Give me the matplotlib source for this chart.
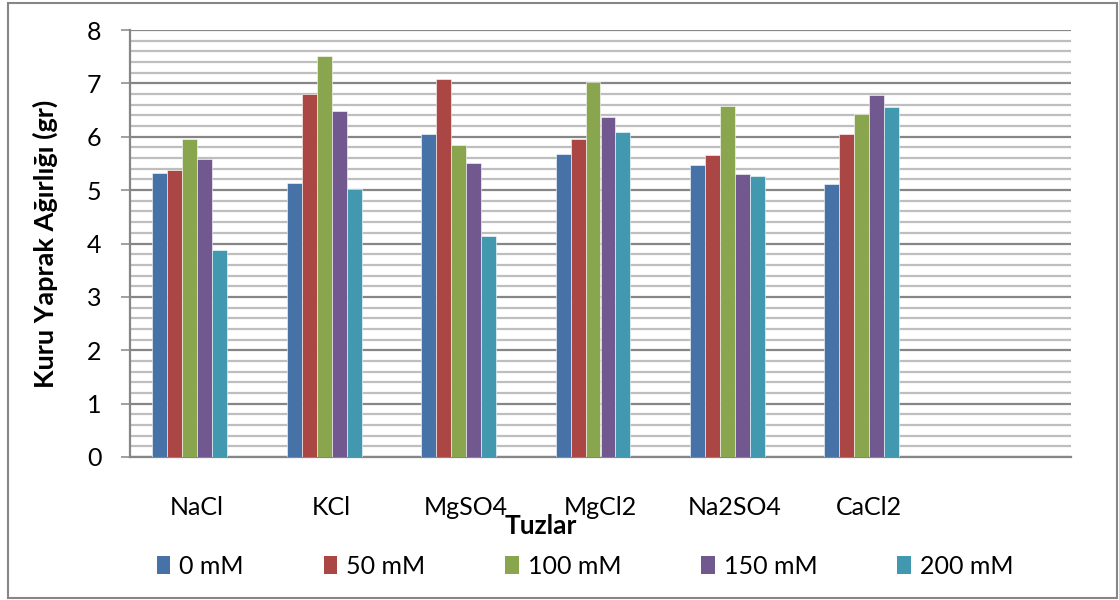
import matplotlib
matplotlib.use("Agg")
import matplotlib.pyplot as plt
from matplotlib.patches import Rectangle, Patch
from matplotlib.ticker import MultipleLocator
import numpy as np

# Données
salts = ["NaCl", "KCl", "MgSO4", "MgCl2", "Na2SO4", "CaCl2"]
series_names = ["0 mM", "50 mM", "100 mM", "150 mM", "200 mM"]
mm0 = [5.32, 5.14, 6.05, 5.68, 5.47, 5.12]
mm50 = [5.37, 6.80, 7.08, 5.96, 5.65, 6.05]
mm100 = [5.96, 7.51, 5.84, 7.03, 6.58, 6.42]
mm150 = [5.59, 6.48, 5.51, 6.37, 5.31, 6.78]
mm200 = [3.88, 5.02, 4.14, 6.09, 5.27, 6.55]
colors = ["#4672A8", "#AA4643", "#89A54E", "#71588F", "#4198AF"]

plt.rcParams["font.family"] = ["Lato", "DejaVu Sans"]

fig = plt.figure(figsize=(11.19, 6.0), dpi=100)
ax = fig.add_axes([130 / 1119, 1 - 457 / 600, 941 / 1119, 427 / 600])

n_cat = 7  # une catégorie vide à la fin, comme dans l'original
x = np.arange(len(salts))
w = 0.1115
slots = 6  # 6 emplacements par groupe, le dernier vide
values = [mm0, mm50, mm100, mm150, mm200]
for i, (vals, col) in enumerate(zip(values, colors)):
    off = (i - (slots - 1) / 2) * w
    ax.bar(x + off, vals, width=w, color=col, edgecolor="white", linewidth=0.4, zorder=3)

ax.set_xlim(-0.5, n_cat - 0.5)
ax.set_ylim(0, 8)
ax.set_xticks(x)
ax.set_xticklabels(salts, fontsize=18)
ax.tick_params(axis="x", length=0, pad=28)
ax.yaxis.set_major_locator(MultipleLocator(1))
ax.yaxis.set_minor_locator(MultipleLocator(0.2))
ax.tick_params(axis="y", which="major", length=6.5, width=1.1, color="#868686", labelsize=18, pad=14)
ax.tick_params(axis="y", which="minor", length=0)

ax.grid(axis="y", which="minor", color="#BEBEBE", linewidth=1.6, zorder=0)
ax.grid(axis="y", which="major", color="#868686", linewidth=1.6, zorder=0)
ax.set_axisbelow(True)

for s in ["top", "right"]:
    ax.spines[s].set_visible(False)
for s in ["left", "bottom"]:
    ax.spines[s].set_color("#868686")
    ax.spines[s].set_linewidth(1.6)

ax.set_ylabel("Kuru Yaprak Ağırlığı (gr)", fontsize=19.5, fontweight="bold", va="center")
ax.yaxis.set_label_coords((45 - 130) / 941, 0.5)
ax.set_xlabel("Tuzlar", fontsize=19, fontweight="bold", va="center")
ax.xaxis.set_label_coords((541 - 130) / 941, (457 - 526) / 427)

handles = [Patch(facecolor=c, edgecolor="none") for c in colors]
fig.legend(handles, series_names, loc="center", bbox_to_anchor=(585 / 1119, 1 - 566 / 600),
           ncol=5, frameon=False, fontsize=18, handlelength=0.55, handleheight=0.75,
           handletextpad=0.35, columnspacing=3.2)

fig.patches.append(Rectangle((8 / 1119, 2 / 600), 1109 / 1119, 595 / 600, transform=fig.transFigure,
                             fill=False, edgecolor="#868686", linewidth=1.5))

fig.savefig("out.png", dpi=100)
